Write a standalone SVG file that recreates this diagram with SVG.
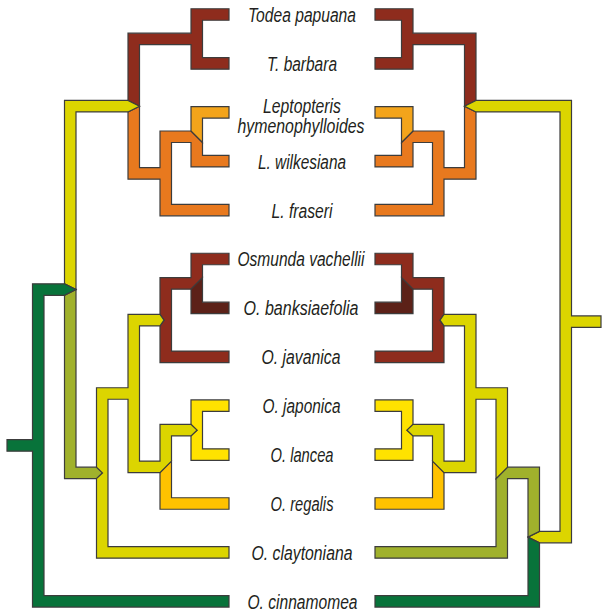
<svg xmlns="http://www.w3.org/2000/svg" xmlns:xlink="http://www.w3.org/1999/xlink" width="606" height="613" viewBox="0 0 606 613">
<style>
polygon{stroke:#3c3c3c;stroke-width:1.2;stroke-linejoin:miter}
.br{fill:#8E2C1D}.dbr{fill:#5C2118}.or{fill:#E8791E}.lor{fill:#F3A41B}
.yg{fill:#DCD500}.by{fill:#FFE200}.oy{fill:#FFC200}.ol{fill:#A0B12C}.gr{fill:#08733A}
text{font-family:"Liberation Sans",Arial,sans-serif;font-style:italic;font-size:20px;fill:#231F20;text-anchor:middle}
</style>
<defs>
<g id="shared">
<polygon class="br" points="229,8.75 191,8.75 191,33.2 128,33.2 128,100.44 139.5,106.19 139.5,44.7 191,44.7 191,69.15 229,69.15 229,57.65 202.5,57.65 202.5,20.25 229,20.25"/>
<polygon class="or" points="128,111.94 139.5,106.19 139.5,167.68 160,167.68 160,131 191,131 202.5,142.5 202.5,155.45 229,155.45 229,166.95 191,166.95 191,142.5 171.5,142.5 171.5,204.35 229,204.35 229,215.85 160,215.85 160,179.18 128,179.18"/>
<polygon class="lor" points="229,106.55 191,106.55 191,131 202.5,142.5 202.5,118.05 229,118.05"/>
<polygon class="br" points="229,253.25 191,253.25 191,277.7 160,277.7 160,314.38 164,320.13 160,325.88 160,362.55 229,362.55 229,351.05 171.5,351.05 171.5,289.2 191,289.2 202.5,277.7 202.5,264.75 229,264.75"/>
<polygon class="dbr" points="191,289.2 202.5,277.7 202.5,302.15 229,302.15 229,313.65 191,313.65"/>
<polygon class="by" points="229,399.95 191,399.95 191,424.4 197,430.15 191,435.9 191,460.35 229,460.35 229,448.85 202.5,448.85 202.5,411.45 229,411.45"/>
<polygon class="oy" points="160,472.58 171.5,461.08 171.5,497.75 229,497.75 229,509.25 160,509.25"/>
</g>
</defs>
<g id="connectors">
<g id="left-tree">
<use xlink:href="#shared"/>
<polygon class="yg" points="128,100.44 139.5,106.19 128,111.94 76,111.94 76,289.56 64.5,283.81 64.5,100.44"/>
<polygon class="ol" points="64.5,295.31 76,289.56 76,467.19 96.5,467.19 102.5,472.94 96.5,478.69 64.5,478.69"/>
<polygon class="gr" points="64.5,283.81 76,289.56 64.5,295.31 44,295.31 44,595.55 229,595.55 229,607.05 32.5,607.05 32.5,451.18 7,451.18 7,439.68 32.5,439.68 32.5,283.81"/>
<polygon class="yg" points="96.5,387.73 128,387.73 128,314.38 160,314.38 164,320.13 160,325.88 139.5,325.88 139.5,461.08 160,461.08 160,424.4 191,424.4 197,430.15 191,435.9 171.5,435.9 171.5,461.08 160,472.58 128,472.58 128,399.23 108,399.23 108,546.65 229,546.65 229,558.15 96.5,558.15 96.5,478.69 102.5,472.94 96.5,467.19"/>
</g>
<g id="right-tree" transform="matrix(-1 0 0 1 604 0)">
<use xlink:href="#shared"/>
<polygon class="yg" points="128,100.44 139.5,106.19 128,111.94 44,111.94 44,531.37 64.5,531.37 76,537.12 64.5,542.87 32.5,542.87 32.5,327.4 3,327.4 3,315.9 32.5,315.9 32.5,100.44"/>
<polygon class="ol" points="64.5,467.19 96.5,467.19 108,478.69 108,546.65 229,546.65 229,558.15 96.5,558.15 96.5,478.69 76,478.69 76,537.12 64.5,531.37"/>
<polygon class="gr" points="64.5,542.87 76,537.12 76,595.55 229,595.55 229,607.05 64.5,607.05"/>
<polygon class="yg" points="96.5,387.73 128,387.73 128,314.38 160,314.38 164,320.13 160,325.88 139.5,325.88 139.5,461.08 160,461.08 160,424.4 191,424.4 197,430.15 191,435.9 171.5,435.9 171.5,461.08 160,472.58 128,472.58 128,399.23 108,399.23 108,478.69 96.5,467.19"/>
</g>
</g>
<g id="labels">
<g id="todea-papuana"><text x="302" y="22" textLength="108" lengthAdjust="spacingAndGlyphs">Todea papuana</text></g>
<g id="t-barbara"><text x="302" y="70.9" textLength="70" lengthAdjust="spacingAndGlyphs">T. barbara</text></g>
<g id="leptopteris-hymenophylloides"><text x="302" y="112.9" textLength="78" lengthAdjust="spacingAndGlyphs">Leptopteris</text><text x="301" y="132.9" textLength="127" lengthAdjust="spacingAndGlyphs">hymenophylloides</text></g>
<g id="l-wilkesiana"><text x="302" y="168.6" textLength="88" lengthAdjust="spacingAndGlyphs">L. wilkesiana</text></g>
<g id="l-fraseri"><text x="302" y="217.5" textLength="61" lengthAdjust="spacingAndGlyphs">L. fraseri</text></g>
<g id="osmunda-vachellii"><text x="301" y="266.4" textLength="127" lengthAdjust="spacingAndGlyphs">Osmunda vachellii</text></g>
<g id="o-banksiaefolia"><text x="301" y="315.3" textLength="115" lengthAdjust="spacingAndGlyphs">O. banksiaefolia</text></g>
<g id="o-javanica"><text x="301" y="364.2" textLength="79" lengthAdjust="spacingAndGlyphs">O. javanica</text></g>
<g id="o-japonica"><text x="301.5" y="413.1" textLength="78" lengthAdjust="spacingAndGlyphs">O. japonica</text></g>
<g id="o-lancea"><text x="302" y="462" textLength="63" lengthAdjust="spacingAndGlyphs">O. lancea</text></g>
<g id="o-regalis"><text x="302" y="510.9" textLength="63" lengthAdjust="spacingAndGlyphs">O. regalis</text></g>
<g id="o-claytoniana"><text x="302" y="559.8" textLength="101" lengthAdjust="spacingAndGlyphs">O. claytoniana</text></g>
<g id="o-cinnamomea"><text x="302.5" y="608.6" textLength="110" lengthAdjust="spacingAndGlyphs">O. cinnamomea</text></g>
</g>
</svg>
